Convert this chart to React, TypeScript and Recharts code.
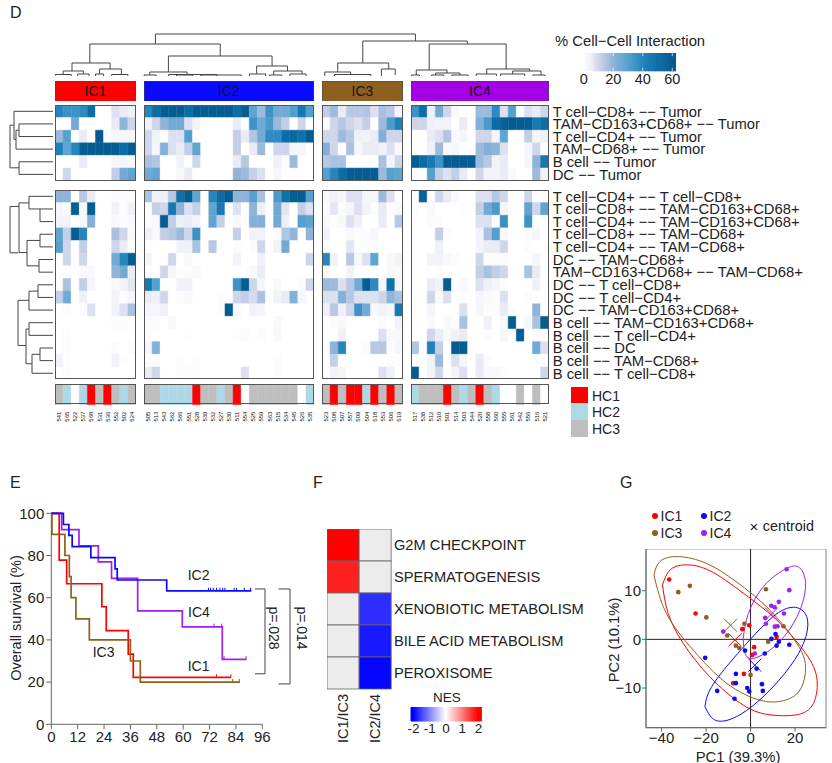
import React from "react";
import {
  BarChart, Bar, Cell, XAxis, YAxis, LineChart, Line, ComposedChart, Scatter, ZAxis,
  ReferenceLine, ReferenceDot, ReferenceArea, LabelList, Label,
} from "recharts";

// ---------- Panel D data ----------
const SAMPLES_IC1 = ["541","565","522","537","568","531","536","552","502","524"];
const SAMPLES_IC2 = ["505","513","543","562","566","551","528","539","532","527","530","511","554","525","559","563","515","534","545","526","535"];
const SAMPLES_IC3 = ["523","508","507","557","509","504","518","553","506","519"];
const SAMPLES_IC4 = ["517","538","512","510","501","514","503","544","520","558","560","555","561","542","556","516","521"];

const TOP_ROWS = ["T cell−CD8+ −− Tumor","TAM−CD163+CD68+ −− Tumor","T cell−CD4+ −− Tumor","TAM−CD68+ −− Tumor","B cell −− Tumor","DC −− Tumor"];
const BOTTOM_ROWS = ["T cell−CD4+ −− T cell−CD8+","T cell−CD8+ −− TAM−CD163+CD68+","T cell−CD4+ −− TAM−CD163+CD68+","T cell−CD8+ −− TAM−CD68+","T cell−CD4+ −− TAM−CD68+","DC −− TAM−CD68+","TAM−CD163+CD68+ −− TAM−CD68+","DC −− T cell−CD8+","DC −− T cell−CD4+","DC −− TAM−CD163+CD68+","B cell −− TAM−CD163+CD68+","B cell −− T cell−CD4+","B cell −− DC","B cell −− TAM−CD68+","B cell −− T cell−CD8+"];

const TOP_IC1 = [
  [40,35,35,38,50,0,0,8,6,5],
  [0,0,25,0,0,0,0,6,20,10],
  [18,30,0,6,0,60,1,3,3,3],
  [42,28,40,58,58,58,58,58,50,58],
  [0,0,0,6,0,0,0,3,3,2],
  [0,10,0,0,0,0,0,12,25,28],
];
const TOP_IC2 = [
  [40,50,58,58,58,50,58,58,58,58,58,50,58,28,18,35,25,25,30,45,30],
  [4,10,20,25,25,8,4,0,0,0,0,6,0,35,25,32,18,12,0,10,0],
  [10,4,0,8,8,30,0,0,0,0,0,12,6,15,25,38,38,50,52,48,58],
  [10,3,22,8,6,12,28,0,0,0,0,12,0,6,18,0,10,10,3,3,0],
  [16,15,0,0,4,0,10,0,0,0,0,6,14,0,0,0,5,1,18,0,0],
  [25,28,0,0,2,6,0,0,0,0,0,20,18,12,8,0,3,0,0,0,0],
];
const TOP_IC3 = [
  [12,18,6,14,14,15,8,16,14,3],
  [1,10,14,10,8,12,0,18,32,42],
  [10,10,18,14,5,4,6,22,10,10],
  [22,10,0,16,3,6,6,4,8,2],
  [14,16,16,0,0,0,0,16,3,10],
  [30,40,50,58,58,58,58,18,30,28],
];
const TOP_IC4 = [
  [35,50,5,25,10,2,0,0,18,18,38,8,30,0,8,6,10],
  [10,10,5,4,4,0,6,0,22,32,50,56,58,58,58,45,50],
  [0,0,6,8,15,2,3,0,10,10,3,28,0,0,12,3,5],
  [0,0,5,18,2,3,0,0,18,22,20,8,0,0,3,10,0],
  [58,50,45,35,58,58,58,58,18,14,4,6,0,0,3,20,45],
  [0,0,30,12,8,12,6,0,10,4,4,6,2,0,0,18,4],
];
const BOTTOM_IC1 = [
  [20,20,0,14,6,0,0,1,1,1],
  [3,0,58,2,58,0,0,4,1,5],
  [4,4,0,2,22,0,0,2,1,2],
  [28,12,58,40,0,0,0,16,10,2],
  [30,10,0,12,0,0,0,10,6,1],
  [0,10,0,10,0,0,0,25,40,58],
  [0,1,0,2,2,0,0,20,25,6],
  [1,16,0,12,3,0,0,2,4,7],
  [12,25,0,5,0,0,0,4,1,3],
  [0,1,0,1,8,0,0,4,8,16],
  [0,0,0,0,0,0,0,1,1,0],
  [0,1,0,0,0,0,0,0,0,0],
  [0,1,0,0,0,0,0,1,0,1],
  [4,1,0,0,0,0,0,4,1,0],
  [0,1,0,0,0,0,0,0,0,0],
];
const BOTTOM_IC2 = [
  [16,5,5,14,48,58,28,0,40,50,58,20,20,30,16,0,32,48,58,58,30],
  [1,12,10,45,20,8,12,0,28,45,0,8,0,20,5,0,25,7,0,12,8],
  [1,2,58,12,5,6,4,0,28,12,0,2,0,22,22,0,25,5,0,30,28],
  [5,2,12,14,18,10,35,0,0,0,0,12,0,4,4,0,1,15,20,0,20],
  [0,0,0,0,4,5,16,0,14,0,0,1,0,1,10,0,4,25,0,0,0],
  [3,0,0,10,0,2,0,0,0,0,0,4,0,0,5,0,0,0,0,0,10],
  [0,0,10,3,1,1,2,0,0,0,0,0,0,2,6,0,0,0,0,0,0],
  [45,30,0,0,4,5,0,0,0,0,0,35,58,10,3,0,2,0,0,1,10],
  [6,5,10,0,1,2,0,0,0,1,0,10,12,9,16,0,4,6,22,3,0],
  [3,3,5,0,0,0,0,0,0,1,58,2,0,4,3,0,0,0,0,0,0],
  [1,1,0,2,0,0,0,0,0,0,0,0,0,0,0,0,2,0,0,0,0],
  [1,0,0,0,0,1,0,0,0,0,0,1,1,0,1,0,2,0,0,0,0],
  [3,22,0,0,0,0,0,0,0,0,0,0,0,0,0,0,0,0,0,0,0],
  [1,1,0,0,1,0,1,0,0,0,0,0,0,0,0,0,1,0,0,0,0],
  [6,10,0,0,1,1,1,0,0,0,0,0,8,0,0,0,1,0,0,0,0],
];
const BOTTOM_IC3 = [
  [2,5,3,8,8,3,3,18,8,0],
  [1,7,1,3,8,4,1,6,1,2],
  [2,1,2,8,5,0,0,6,0,14],
  [4,0,0,2,1,1,3,0,0,0],
  [1,0,0,7,1,1,1,0,0,0],
  [40,5,0,14,3,8,28,0,2,4],
  [2,0,0,4,0,0,0,0,2,2],
  [18,18,8,14,25,58,38,3,48,3],
  [8,8,22,14,8,8,8,10,20,16],
  [5,14,5,10,35,25,2,4,3,45],
  [0,1,2,0,0,0,0,1,0,4],
  [0,0,5,0,0,0,0,8,2,2],
  [1,20,40,0,0,1,14,14,1,3],
  [0,12,0,0,0,0,0,0,1,1],
  [0,4,3,0,0,0,0,8,5,0],
];
const BOTTOM_IC4 = [
  [0,55,1,10,6,2,0,0,8,8,14,10,0,0,10,0,0],
  [1,0,2,0,0,0,1,0,12,25,32,3,0,0,28,10,28],
  [0,0,1,1,0,0,0,0,8,8,1,36,0,0,35,0,0],
  [0,0,0,12,1,0,0,0,4,16,30,2,0,0,1,3,0],
  [0,0,0,5,0,0,0,0,4,6,6,10,0,0,1,0,0],
  [0,0,4,4,2,1,0,0,10,1,1,1,0,0,0,3,0],
  [0,0,0,1,0,0,0,0,12,16,12,10,0,0,16,6,0],
  [0,0,6,4,58,0,2,0,8,5,3,1,0,0,0,5,0],
  [0,0,10,2,8,0,1,0,3,2,1,8,0,0,1,0,0],
  [0,0,3,0,0,0,8,0,3,1,1,6,0,0,0,20,0],
  [0,0,2,0,2,1,16,0,0,5,0,2,58,0,3,16,58],
  [0,0,10,6,2,5,6,0,0,1,0,3,0,58,0,1,0],
  [15,0,42,12,0,58,58,0,0,0,0,0,0,0,0,25,8],
  [0,0,4,18,0,8,3,0,6,1,0,0,0,0,0,1,1],
  [58,0,4,10,1,4,8,0,6,2,2,1,0,0,0,0,10],
];

// annotation: 1 = HC1, 2 = HC2, 3 = HC3, 0 = not available
const HC_IC1 = [3,2,0,2,1,3,1,3,2,3];
const HC_IC2 = [3,3,2,2,2,2,1,3,3,2,3,1,0,3,3,3,3,3,3,0,2];
const HC_IC3 = [3,1,3,1,1,2,1,3,1,3];
const HC_IC4 = [2,3,3,3,1,3,2,3,1,3,2,0,0,3,0,3,0];

// dendrogram merges: [left position, right position, join height, left height, right height]
const DENDRO_TOP = [
  [12.4,44.5,43,33,36],[4.3,20.4,33,14,21],[38,50.9,36,14,33],
  [2.1,6.8,14,6,8],[1,3.5,6,2.5,3],[0,2,2.5,1,1],[2.8,4.2,3,1,1],[5.5,8.2,8,3,2.5],[5,6,3,1,1],[7,9,2.5,1,1],
  [14,26.8,21,5,11],[11.7,16.3,5,2,2.5],[11,12.5,2,1,1],[14,20,2.5,1,1],[15,17,2,1,1],[18,23,2,1,1],
  [24.9,28.7,11,3,6],[24,26,3,1,1],[27,30.5,6,2,3],[26.5,28,2,1,1],[29,31,3,1,1],
  [34.9,41.2,14,5,8],[33.3,36.5,5,1,2.5],[34.5,39,2.5,1,1],[40.3,42,8,1,2],
  [46.2,55.7,33,7,8],[44.6,48.4,7,2,4],[44,45,2,1,1],[47,50,4,2,2],[46.5,48,2,1,1],[49,51,2,1,1],
  [53.3,58.6,8,3,6],[52,54.5,3,1,1],[56.5,60,6,3,2],[55,58,3,1,1],[59,60.5,2,1,1],
];
const DENDRO_LEFT_TOP = [
  [0.5,2.72,41,2,39],[1.5,2.5,36,2,2],[2,3.5,39,36,2],[1.6,4.98,45,41,36],[4.5,5.5,36,2,2],
];
const DENDRO_LEFT_BOTTOM = [
  [1.3,4.97,45,36,37],
  [0.5,1.5,26,2,15],[1.5,2.5,15,2,2],[1.02,4.95,36,26,28],
  [3.5,4.5,15,2,2],[5.5,6.5,16,2,2],[3.99,6.0,28,15,16],
  [7.5,8.5,17,2,2],[8,9.5,26,17,2],[8.73,12.3,37,26,29],
  [10.5,11.5,26,2,2],[12.5,13.5,15,2,2],[13,14.5,23,15,2],[11,13.75,29,26,23],
];

// ---------- Panel E data ----------
const KM_IC1 = [[0,100],[3.6,77.8],[7,66.6],[23,55.7],[25,44.4],[35,33.3],[37.3,22.2],[81.7,22.2]];
const KM_IC2 = [[0,100],[5.5,94.7],[8,89.5],[9.5,84.2],[18,79],[29,73.7],[30,68.4],[52.5,63.2],[91,63.2]];
const KM_IC3 = [[0,100],[0.3,90],[6.2,80],[8.2,70],[9,60],[11.2,50],[17.3,40],[36,30],[40.5,20],[85.8,20]];
const KM_IC4 = [[0,100],[4.7,92.3],[12.6,84.6],[21.4,77],[27.4,69.2],[39.3,53.8],[59.6,46.2],[77.8,30.8],[88.9,30.8]];
const CENSOR_IC1 = [[75.2,22.2],[81.7,22.2]];
const CENSOR_IC2 = [[71.5,63.2],[72.5,63.2],[73.7,63.2],[75.2,63.2],[76.7,63.2],[78,63.2],[79,63.2],[83.2,63.2],[84.3,63.2],[87.8,63.2],[90.7,63.2]];
const CENSOR_IC3 = [[82.5,20],[85.5,20]];
const CENSOR_IC4 = [[74,46.2],[77.5,46.2],[78.6,30.8],[88.6,30.8]];

// ---------- Panel F data ----------
const NES_PATHWAYS = ["G2M CHECKPOINT","SPERMATOGENESIS","XENOBIOTIC METABOLISM","BILE ACID METABOLISM","PEROXISOME"];
const NES_CONTRASTS = ["IC1/IC3","IC2/IC4"];
const NES_IC1_IC3 = [2,1.75,null,null,null];
const NES_IC2_IC4 = [null,null,-1.65,-1.8,-1.95];

// ---------- Panel G data ----------
const PCA_IC1 = [[-36.6,12.3],[-24.7,5.3],[-3.7,2.1],[-0.6,2.9],[11.7,0.5],[1.6,-1.6],[0.7,-3.2],[-3,-7.1],[-7.8,-9]];
const PCA_IC2 = [[-20.4,-3.8],[-2.5,-2.3],[6.4,-2.9],[2.7,-6],[-6.6,-7.1],[-6.6,-9],[-15,-10.6],[-7.2,-12.2],[-1.5,-10],[-0.6,-10.7],[5.1,-9.2],[5.5,-10.6],[9.4,0.1],[11.2,1.1],[11.7,-1.3],[12.7,-0.5],[17.4,-1.1]];
const PCA_IC3 = [[-32.5,9.7],[-27.3,11],[-19.9,4.5],[-2.8,3.2],[6.9,10.3],[-10.5,0.8],[-6.6,-1.3],[-5.1,-1.8],[7.9,-0.5],[14.8,2.7],[0,-7.3]];
const PCA_IC4 = [[16.2,14.4],[17.4,10.1],[12.7,7.7],[9.3,6.9],[10.8,6.6],[15,5.3],[6.6,4.4],[6.9,3.2],[10.9,2.6],[12.1,2.7],[-12.3,1.6],[1.9,-2.9]];
const ELLIPSE_IC1 = [[-39.6,11.2],[-36.3,14.2],[-29.5,15.3],[-18.3,14.1],[-3.3,9.5],[11.7,4],[23.7,-2.2],[29.7,-7.7],[28.2,-13.2],[20.7,-15.5],[8.7,-15.5],[-3.3,-13.5],[-18.3,-7.7],[-30.3,-0.8],[-37,5.3],[-39.6,11.2]];
const ELLIPSE_IC3 = [[-43.4,13.2],[-40.7,16],[-32.5,17],[-19.8,15.6],[-6.3,11.8],[8.7,6],[20.7,-0.8],[24.7,-5.6],[22.2,-10.4],[14.7,-12.6],[4.2,-12.5],[-10.8,-9],[-25.8,-2.2],[-37.8,5.3],[-43.4,13.2]];
const ELLIPSE_IC2 = [[-20.5,-13.8],[-18.3,-10.4],[-10.8,-5.6],[-0.3,-0.1],[10.2,4.7],[19.2,6.6],[25.2,4.7],[24.4,-0.1],[17.7,-5.6],[7.2,-11.1],[-4.8,-15.5],[-15.3,-16.7],[-20.5,-13.8]];
const ELLIPSE_IC4 = [[-3.3,0.2],[-1,5.3],[5.7,10.8],[14.7,14.2],[21.4,14.9],[24.7,11.5],[22.2,6],[16.2,1.2],[8.7,-2.2],[1.2,-3.9],[-2.5,-2.9],[-3.3,0.2]];
const CENTROIDS = [[-7,-0.1],[1.9,-5.3],[-9,2.9],[9.4,5.2]];

const C_RED = "#ff0000", C_BLUE = "#0a0aff", C_BROWN = "#8f5f1f", C_PURPLE = "#a020f0";
const HC_COLORS = ["#ffffff","#ff0000","#add8e6","#bebebe"];
const FONT = '"Liberation Sans", Arial, sans-serif';
const INK = "#222";

const STOPS: [number, number[]][] = [
  [0,[255,255,255]],[5,[239,240,248]],[10,[208,214,234]],[20,[143,180,217]],
  [30,[84,160,206]],[40,[37,133,188]],[50,[11,108,166]],[60,[4,90,142]],
];
function heatColor(v: number) {
  for (let i = 1; i < STOPS.length; i++) {
    if (v <= STOPS[i][0]) {
      const [a, ca] = STOPS[i - 1], [b, cb] = STOPS[i];
      const t = (v - a) / (b - a);
      const c = ca.map((u, k) => Math.round(u + (cb[k] - u) * t));
      return `rgb(${c.join(",")})`;
    }
  }
  return "rgb(4,90,142)";
}
function nesColor(v: number | null) {
  if (v === null) return "#ececec";
  const t = Math.min(1, Math.abs(v) / 2);
  const w = Math.round(255 * (1 - t));
  return v > 0 ? `rgb(255,${w},${w})` : `rgb(${w},${w},255)`;
}

const P0 = 55, UNIT = 8.1;
const R1 = { top: 105, h: 75.7 }, R2 = { top: 189.7, h: 189.6 };

function Txt({ x, y, size = 14, rotate = 0, anchor = "start", color = INK, children }: any) {
  const tx = anchor === "middle" ? "-50%" : anchor === "end" ? "-100%" : "0";
  return (
    <div style={{ position: "absolute", left: x, top: y, fontFamily: FONT, fontSize: size, color, whiteSpace: "nowrap", lineHeight: 1,
      transform: `translate(${tx},-50%) rotate(${rotate}deg)`, transformOrigin: anchor === "middle" ? "center" : "left center" }}>{children}</div>
  );
}
function Box({ x, y, w, h, color = "#555", width = 1.2 }: any) {
  return <div style={{ position: "absolute", left: x, top: y, width: w, height: h, boxSizing: "border-box", border: `${width}px solid ${color}`, pointerEvents: "none" }} />;
}
function At({ x, y, children }: any) {
  return <div style={{ position: "absolute", left: x, top: y }}>{children}</div>;
}

function HeatPanel({ start, samples, matrix, frame, labels, fontSize }: any) {
  const w = samples.length * UNIT, rows = matrix.length;
  const data = samples.map((s: string, c: number) => {
    const o: any = { s };
    matrix.forEach((_: number[], r: number) => { o[`r${r}`] = 1; });
    return o;
  });
  const extra = labels ? 280 : 0;
  return (
    <>
      <At x={P0 + start * UNIT} y={frame.top}>
        <BarChart width={w + extra} height={frame.h} data={data} barCategoryGap={0} barGap={0} margin={{ top: 0, right: 0, bottom: 0, left: 0 }}>
          <XAxis dataKey="s" hide />
          {labels ? (
            <YAxis type="number" orientation="right" reversed domain={[0, rows]} ticks={labels.map((_: string, i: number) => i + 0.5)} interval={0}
              tickFormatter={(v: number) => labels[Math.floor(v)]} width={extra} axisLine={false} tickLine={false} tickSize={0} tickMargin={4}
              tick={{ fontSize, fontFamily: FONT, fill: INK }} />
          ) : <YAxis type="number" reversed domain={[0, rows]} hide />}
          {matrix.map((row: number[], r: number) => (
            <Bar key={r} dataKey={`r${r}`} stackId="a" isAnimationActive={false}>
              {row.map((v, c) => <Cell key={c} fill={heatColor(v)} stroke={heatColor(v)} strokeWidth={0.5} />)}
            </Bar>
          ))}
        </BarChart>
      </At>
      <Box x={P0 + start * UNIT} y={frame.top} w={w} h={frame.h} />
    </>
  );
}

function AnnotationBar({ start, samples, hc }: any) {
  const w = samples.length * UNIT;
  const data = samples.map((s: string) => ({ s, v: 1 }));
  const tick = ({ x, y, payload }: any) => (
    <text x={x} y={y} transform={`rotate(-90 ${x} ${y})`} textAnchor="end" dominantBaseline="central" fontSize={6} fontFamily={FONT} fill="#111">{payload.value}</text>
  );
  return (
    <>
      <At x={P0 + start * UNIT} y={383.7}>
        <BarChart width={w} height={40} data={data} barCategoryGap={0} margin={{ top: 0, right: 0, bottom: 0, left: 0 }}>
          <XAxis dataKey="s" interval={0} height={19.4} tick={tick} axisLine={false} tickLine={false} tickSize={0} tickMargin={7} />
          <YAxis hide domain={[0, 1]} />
          <Bar dataKey="v" isAnimationActive={false}>
            {hc.map((k: number, i: number) => <Cell key={i} fill={HC_COLORS[k]} stroke={HC_COLORS[k]} strokeWidth={0.5} />)}
          </Bar>
        </BarChart>
      </At>
      <Box x={P0 + start * UNIT} y={383.7} w={w} h={20.6} />
    </>
  );
}

function Header({ start, cols, name, color }: any) {
  return (
    <At x={P0 + start * UNIT} y={80.7}>
      <BarChart width={cols * UNIT} height={20.6} data={[{ name, v: 1 }]} barCategoryGap={0} margin={{ top: 0, right: 0, bottom: 0, left: 0 }}>
        <XAxis dataKey="name" hide />
        <YAxis hide domain={[0, 1]} />
        <Bar dataKey="v" fill={color} stroke="#444" strokeWidth={1} isAnimationActive={false}>
          <LabelList dataKey="name" position="center" fill="#161616" fontSize={14} fontFamily={FONT} />
        </Bar>
      </BarChart>
    </At>
  );
}

function dendroPoints(merges: number[][], swap: boolean) {
  const pts: any[] = [];
  const push = (p: number, h: number | null) => pts.push(swap ? { x: h === null ? 0 : h, y: h === null ? null : p } : { x: p, y: h });
  merges.forEach(([a, b, top, ha, hb]) => {
    push(a, ha); push(a, top); push(b, top); push(b, hb); push(b, null);
  });
  return pts;
}

function Dendro({ x, y, w, h, merges, swap, domainX, domainY, reverseX, reverseY }: any) {
  return (
    <At x={x} y={y}>
      <LineChart width={w} height={h} margin={{ top: 0, right: 0, bottom: 0, left: 0 }}>
        <XAxis type="number" dataKey="x" domain={domainX} reversed={reverseX} hide />
        <YAxis type="number" domain={domainY} reversed={reverseY} hide />
        <Line data={dendroPoints(merges, swap)} dataKey="y" stroke="#444" strokeWidth={1} dot={false} connectNulls={false} isAnimationActive={false} />
      </LineChart>
    </At>
  );
}

const CB_VALUES = Array.from({ length: 63 }, (_, i) => ({ v: i, b: 1 }));
const NES_SCALE = Array.from({ length: 43 }, (_, i) => ({ v: i - 21, b: 1 }));
const CB_TICKS = [0, 20, 40, 60];

function PanelD() {
  return (
    <>
      <Txt x={10} y={13} size={16}>D</Txt>
      <Dendro x={P0} y={30} w={61 * UNIT} h={47} merges={DENDRO_TOP} domainX={[0, 61]} domainY={[0, 47]} />
      <Dendro x={0} y={R1.top} w={55} h={R1.h} merges={DENDRO_LEFT_TOP} swap domainX={[0, 55]} domainY={[0, 6]} reverseX reverseY />
      <Dendro x={0} y={R2.top} w={55} h={R2.h} merges={DENDRO_LEFT_BOTTOM} swap domainX={[0, 55]} domainY={[0, 15]} reverseX reverseY />

      <Header start={0} cols={10} name="IC1" color={C_RED} />
      <Header start={11} cols={21} name="IC2" color={C_BLUE} />
      <Header start={33} cols={10} name="IC3" color={C_BROWN} />
      <Header start={44} cols={17} name="IC4" color="#a400e6" />

      <HeatPanel start={0} samples={SAMPLES_IC1} matrix={TOP_IC1} frame={R1} />
      <HeatPanel start={11} samples={SAMPLES_IC2} matrix={TOP_IC2} frame={R1} />
      <HeatPanel start={33} samples={SAMPLES_IC3} matrix={TOP_IC3} frame={R1} />
      <HeatPanel start={44} samples={SAMPLES_IC4} matrix={TOP_IC4} frame={R1} labels={TOP_ROWS} fontSize={14.8} />
      <HeatPanel start={0} samples={SAMPLES_IC1} matrix={BOTTOM_IC1} frame={R2} />
      <HeatPanel start={11} samples={SAMPLES_IC2} matrix={BOTTOM_IC2} frame={R2} />
      <HeatPanel start={33} samples={SAMPLES_IC3} matrix={BOTTOM_IC3} frame={R2} />
      <HeatPanel start={44} samples={SAMPLES_IC4} matrix={BOTTOM_IC4} frame={R2} labels={BOTTOM_ROWS} fontSize={14.8} />

      <AnnotationBar start={0} samples={SAMPLES_IC1} hc={HC_IC1} />
      <AnnotationBar start={11} samples={SAMPLES_IC2} hc={HC_IC2} />
      <AnnotationBar start={33} samples={SAMPLES_IC3} hc={HC_IC3} />
      <AnnotationBar start={44} samples={SAMPLES_IC4} hc={HC_IC4} />

      <Txt x={555} y={41} size={14.8}>% Cell−Cell Interaction</Txt>
      <At x={568} y={53}>
        <BarChart width={123} height={38} data={CB_VALUES} barCategoryGap={0} margin={{ top: 0, right: 15, bottom: 0, left: 15 }}>
          <XAxis dataKey="v" ticks={CB_TICKS} interval={0} height={20} axisLine={false} tickLine={false} tickSize={0} tickMargin={3}
            tick={{ fontSize: 14.5, fontFamily: FONT, fill: INK }} />
          <YAxis hide type="number" domain={[0, 1]} />
          <Bar dataKey="b" isAnimationActive={false}>
            {CB_VALUES.map((d) => <Cell key={d.v} fill={heatColor(d.v)} stroke={heatColor(d.v)} strokeWidth={1} />)}
          </Bar>
          {CB_TICKS.slice(1).flatMap((t) => [
            <ReferenceLine key={`a${t}`} segment={[{ x: t, y: 0 }, { x: t, y: 0.18 }]} stroke="#fff" strokeOpacity={0.7} />,
            <ReferenceLine key={`b${t}`} segment={[{ x: t, y: 0.82 }, { x: t, y: 1 }]} stroke="#fff" strokeOpacity={0.7} />,
          ])}
        </BarChart>
      </At>

      {[["HC1", "#ff0000", 386.7], ["HC2", "#add8e6", 403.3], ["HC3", "#bebebe", 420]].map(([name, color, y]: any) => (
        <React.Fragment key={name}>
          <div style={{ position: "absolute", left: 570.7, top: y, width: 17, height: 16.8, background: color }} />
          <Txt x={592} y={y + 9} size={14}>{name}</Txt>
        </React.Fragment>
      ))}
    </>
  );
}

const xy = (a: number[][]) => a.map(([x, y]) => ({ x, y }));
const censorTick = (color: string) => (props: any) => (
  <line x1={props.cx} x2={props.cx} y1={props.cy - 3.2} y2={props.cy} stroke={color} strokeWidth={1} />
);
const KM_LABELS = [["IC2", 67, 70.8], ["IC4", 67.2, 53], ["IC3", 23.8, 34.4], ["IC1", 67, 27.8]];
const BRACKET_A = [{ x: 0, y: 64 }, { x: 10, y: 64 }, { x: 10, y: 23.8 }, { x: 0, y: 23.8 }];
const BRACKET_B = [{ x: 23.5, y: 64 }, { x: 35, y: 64 }, { x: 35, y: 19 }, { x: 23.5, y: 19 }];

function PanelE() {
  const axisTick = { fontSize: 15, fontFamily: FONT, fill: INK };
  return (
    <>
      <Txt x={10} y={483} size={16}>E</Txt>
      <At x={0} y={500}>
        <ComposedChart width={300} height={283} margin={{ top: 13.3, right: 37.7, bottom: 0, left: 0 }}>
          <XAxis type="number" dataKey="x" domain={[0, 96]} ticks={[0, 12, 24, 36, 48, 60, 72, 84, 96]} height={58.7} tick={axisTick} interval={0}
            stroke="#666" tickSize={5} tickMargin={2}>
            <Label value="Months" position="insideBottom" offset={2} fontSize={14.5} fontFamily={FONT} fill={INK} />
          </XAxis>
          <YAxis type="number" dataKey="y" domain={[0, 100]} ticks={[0, 20, 40, 60, 80, 100]} width={51.3} tick={axisTick} stroke="#666" tickSize={5} tickMargin={2} />
          <Line data={xy(KM_IC1)} dataKey="y" type="stepAfter" stroke={C_RED} strokeWidth={1.7} dot={false} isAnimationActive={false} />
          <Line data={xy(KM_IC3)} dataKey="y" type="stepAfter" stroke={C_BROWN} strokeWidth={1.7} dot={false} isAnimationActive={false} />
          <Line data={xy(KM_IC4)} dataKey="y" type="stepAfter" stroke={C_PURPLE} strokeWidth={1.7} dot={false} isAnimationActive={false} />
          <Line data={xy(KM_IC2)} dataKey="y" type="stepAfter" stroke={C_BLUE} strokeWidth={1.7} dot={false} isAnimationActive={false} />
          <Scatter data={xy(CENSOR_IC1)} shape={censorTick(C_RED)} isAnimationActive={false} />
          <Scatter data={xy(CENSOR_IC3)} shape={censorTick(C_BROWN)} isAnimationActive={false} />
          <Scatter data={xy(CENSOR_IC4)} shape={censorTick(C_PURPLE)} isAnimationActive={false} />
          <Scatter data={xy(CENSOR_IC2)} shape={censorTick(C_BLUE)} isAnimationActive={false} />
          {KM_LABELS.map(([name, x, y]: any) => (
            <ReferenceDot key={name} x={x} y={y} r={0} stroke="none" fill="none"
              label={{ value: name, position: "center", fontSize: 14, fontFamily: FONT, fill: INK }} />
          ))}
        </ComposedChart>
      </At>
      <At x={255} y={513.3}>
        <LineChart width={36} height={211} margin={{ top: 0, right: 0, bottom: 0, left: 0 }}>
          <XAxis type="number" dataKey="x" domain={[0, 36]} hide />
          <YAxis type="number" domain={[0, 100]} hide />
          <Line data={BRACKET_A} dataKey="y" stroke="#444" strokeWidth={1} dot={false} isAnimationActive={false} />
          <Line data={BRACKET_B} dataKey="y" stroke="#444" strokeWidth={1} dot={false} isAnimationActive={false} />
        </LineChart>
      </At>
      <Txt x={16} y={618} size={14.5} rotate={-90} anchor="middle">Overall survival (%)</Txt>
      <Txt x={274} y={628} size={14} rotate={90} anchor="middle">p=.028</Txt>
      <Txt x={301.5} y={628} size={14} rotate={90} anchor="middle">p=.014</Txt>
    </>
  );
}

function PanelF() {
  const data = NES_CONTRASTS.map((name) => {
    const o: any = { name };
    NES_PATHWAYS.forEach((_, r) => { o[`r${r}`] = 1; });
    return o;
  });
  const colTick = ({ x, y, payload }: any) => (
    <text x={x} y={y} transform={`rotate(-90 ${x} ${y})`} textAnchor="end" dominantBaseline="central" fontSize={14.5} fontFamily={FONT} fill={INK}>{payload.value}</text>
  );
  return (
    <>
      <Txt x={313} y={483} size={16}>F</Txt>
      <At x={327.3} y={529}>
        <BarChart width={284.4} height={220} data={data} barCategoryGap={0} margin={{ top: 0, right: 0, bottom: 0, left: 0 }}>
          <XAxis dataKey="name" interval={0} height={60} tick={colTick} axisLine={false} tickLine={false} tickSize={0} tickMargin={5} />
          <YAxis type="number" orientation="right" reversed domain={[0, 5]} ticks={[0.5, 1.5, 2.5, 3.5, 4.5]} interval={0}
            tickFormatter={(v: number) => NES_PATHWAYS[Math.floor(v)]} width={220} axisLine={false} tickLine={false} tickSize={0} tickMargin={2.5}
            tick={{ fontSize: 14.7, fontFamily: FONT, fill: INK }} />
          {NES_PATHWAYS.map((_, r) => (
            <Bar key={r} dataKey={`r${r}`} stackId="a" isAnimationActive={false}>
              {[NES_IC1_IC3[r], NES_IC2_IC4[r]].map((v, c) => <Cell key={c} fill={nesColor(v)} stroke="#666" strokeWidth={0.8} />)}
            </Bar>
          ))}
        </BarChart>
      </At>
      <Txt x={447} y={698} size={13.5} anchor="middle">NES</Txt>
      <At x={396.3} y={707.3}>
        <BarChart width={100} height={31} data={NES_SCALE} barCategoryGap={0} margin={{ top: 0, right: 15, bottom: 0, left: 15 }}>
          <XAxis dataKey="v" ticks={[-20, -10, 0, 10, 20]} interval={0} height={17} axisLine={false} tickLine={false} tickSize={0} tickMargin={2}
            tickFormatter={(v: number) => String(v / 10)} tick={{ fontSize: 13.5, fontFamily: FONT, fill: INK }} />
          <YAxis hide type="number" domain={[0, 1]} />
          <Bar dataKey="b" isAnimationActive={false}>
            {NES_SCALE.map((d) => <Cell key={d.v} fill={nesColor(d.v / 10)} stroke={nesColor(d.v / 10)} strokeWidth={1} />)}
          </Bar>
        </BarChart>
      </At>
    </>
  );
}

const crossShape = (color: string) => (props: any) => (
  <path d={`M${props.cx - 6.5} ${props.cy - 6.5}L${props.cx + 6.5} ${props.cy + 6.5}M${props.cx - 6.5} ${props.cy + 6.5}L${props.cx + 6.5} ${props.cy - 6.5}`} stroke={color} strokeWidth={1} fill="none" />
);
const minus = (v: number) => (v < 0 ? `−${-v}` : String(v));

function PanelG() {
  const axisTick = { fontSize: 15, fontFamily: FONT, fill: INK };
  const sets: [string, number[][], number[][], number][] = [
    [C_RED, PCA_IC1, ELLIPSE_IC1, 0], [C_BROWN, PCA_IC3, ELLIPSE_IC3, 2], [C_BLUE, PCA_IC2, ELLIPSE_IC2, 1], [C_PURPLE, PCA_IC4, ELLIPSE_IC4, 3],
  ];
  const legend: [string, string, number, number][] = [["IC1", C_RED, 655, 515.7], ["IC2", C_BLUE, 704, 515.7], ["IC3", C_BROWN, 655, 533], ["IC4", C_PURPLE, 704, 533]];
  return (
    <>
      <Txt x={620} y={483} size={16}>G</Txt>
      {legend.map(([name, color, x, y]) => (
        <React.Fragment key={name}>
          <div style={{ position: "absolute", left: x - 3, top: y - 3, width: 6, height: 6, borderRadius: 3, background: color }} />
          <Txt x={x + 5.5} y={y} size={14}>{name}</Txt>
        </React.Fragment>
      ))}
      <Txt x={749.5} y={526} size={15}>×</Txt>
      <Txt x={762.7} y={526} size={14.4}>centroid</Txt>
      <At x={600} y={549}>
        <ComposedChart width={232} height={214} margin={{ top: 0, right: 6, bottom: 0, left: 0 }}>
          <XAxis type="number" dataKey="x" domain={[-47, 33.9]} ticks={[-40, -20, 0, 20]} height={35.3} tick={axisTick} tickFormatter={minus} stroke="#666" tickSize={4} tickMargin={1} />
          <YAxis type="number" dataKey="y" domain={[-18.15, 18.56]} ticks={[-10, 0, 10]} width={46} tick={axisTick} tickFormatter={minus} stroke="#666" tickSize={4} tickMargin={1} />
          <ZAxis range={[17, 17]} />
          <ReferenceArea x1={-47} x2={33.9} y1={-18.15} y2={18.56} fill="none" stroke="#999" strokeWidth={1.2} />
          <ReferenceLine x={0} stroke="#222" strokeWidth={1} />
          <ReferenceLine y={0} stroke="#222" strokeWidth={1} />
          {sets.map(([color, , ell]) => (
            <Line key={color} data={xy(ell)} dataKey="y" type="natural" stroke={color} strokeWidth={1} dot={false} isAnimationActive={false} />
          ))}
          {sets.map(([color, pts]) => (
            <Scatter key={color} data={xy(pts)} fill={color} isAnimationActive={false} />
          ))}
          {sets.map(([color, , , c]) => (
            <Scatter key={`c${color}`} data={xy([CENTROIDS[c]])} shape={crossShape(color)} isAnimationActive={false} />
          ))}
        </ComposedChart>
      </At>
      <Txt x={738} y={757} size={14.8} anchor="middle">PC1 (39.3%)</Txt>
      <Txt x={614} y={640} size={14.8} rotate={-90} anchor="middle">PC2 (10.1%)</Txt>
    </>
  );
}

export default function App() {
  return (
    <div style={{ position: "fixed", left: 0, top: 0, width: 832, height: 763, overflow: "hidden", background: "#fff" }}>
      <PanelD />
      <PanelE />
      <PanelF />
      <PanelG />
    </div>
  );
}
